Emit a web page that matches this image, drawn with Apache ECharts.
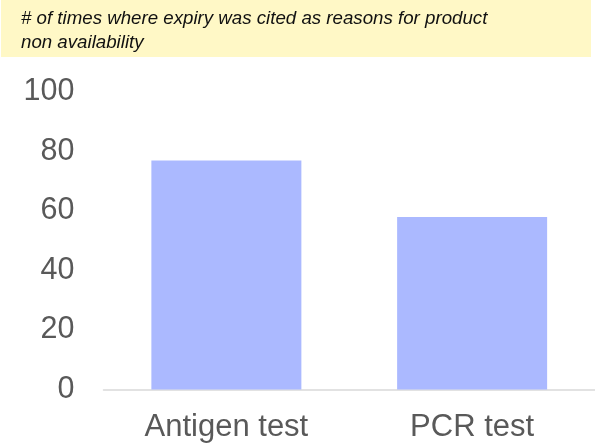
<!DOCTYPE html>
<html>
<head>
<meta charset="utf-8">
<script src="https://cdn.jsdelivr.net/npm/echarts@6/dist/echarts.min.js"></script>
<style>html,body{margin:0;padding:0;background:#fff}#c{width:595px;height:445px}</style>
</head>
<body>
<div id="c"></div>
<script>
var categories = ['Antigen test', 'PCR test'];
var values = [77, 58];
var titleText = '# of times where expiry was cited as reasons for product\nnon availability';

var chart = echarts.init(document.getElementById('c'), null, {renderer: 'canvas'});
chart.setOption({
  animation: false,
  graphic: [{
    type: 'rect', left: 1, top: 0, z: -1,
    shape: {width: 590, height: 57},
    style: {fill: '#fff8c6'}
  }],
  title: {
    text: titleText,
    left: 21, top: 7, padding: 0,
    textStyle: {fontFamily: 'Liberation Sans', fontStyle: 'italic', fontWeight: 'normal', fontSize: 18.7, lineHeight: 24, color: '#111'}
  },
  grid: {left: 103.5, right: -4.5, top: 92, bottom: 55.5, containLabel: false},
  xAxis: {
    type: 'category', data: categories,
    axisLine: {lineStyle: {color: '#d9d9d9', width: 1.5}},
    axisTick: {show: false},
    axisLabel: {fontFamily: 'Liberation Sans', fontSize: 31, color: '#595959', margin: 22}
  },
  yAxis: {
    type: 'value', min: 0, max: 100, interval: 20,
    axisLine: {show: false}, axisTick: {show: false}, splitLine: {show: false},
    axisLabel: {fontFamily: 'Liberation Sans', fontSize: 30.5, color: '#595959', margin: 29}
  },
  series: [{
    type: 'bar', data: values, barWidth: 150,
    itemStyle: {color: '#abb9ff'}
  }]
});
</script>
</body>
</html>
